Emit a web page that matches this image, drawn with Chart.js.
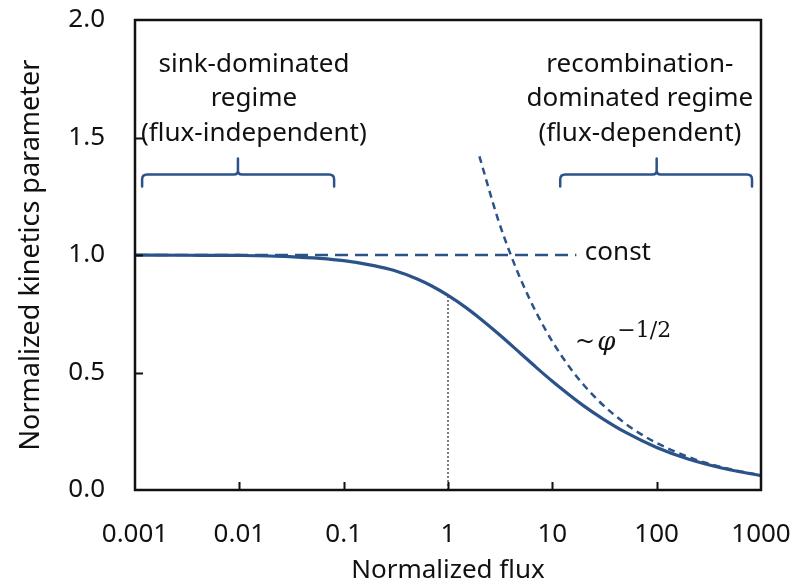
<!DOCTYPE html>
<html>
<head>
<meta charset="utf-8">
<script src="https://cdn.jsdelivr.net/npm/chart.js@4"></script>
<style>
  html,body{margin:0;padding:0;background:#fff;}
  #wrap{width:805px;height:584px;position:relative;}
</style>
</head>
<body>
<div id="wrap"><canvas id="ch" width="805" height="584"></canvas></div>
<script>
// 歸一化通量 vs 歸一化動力學參數
const xTickValues = [0.001, 0.01, 0.1, 1, 10, 100, 1000];
const xTickLabels = ['0.001', '0.01', '0.1', '1', '10', '100', '1000'];
const yTickValues = [0, 0.5, 1.0, 1.5, 2.0];

// 實線：完整曲線
const fluxSolid = [0.001, 0.003, 0.01, 0.03, 0.1, 0.2, 0.3, 0.5, 0.7, 1, 1.5, 2, 3, 5, 7, 10, 20, 30, 50, 100, 200, 500, 1000];
const kinSolid  = [1.000, 0.999, 0.998, 0.993, 0.976, 0.954, 0.935, 0.899, 0.868, 0.828, 0.775, 0.732, 0.667, 0.580, 0.522, 0.463, 0.358, 0.305, 0.246, 0.181, 0.132, 0.086, 0.061];

// 虛線：~φ^-1/2 漸近線
const fluxPow = [2, 3, 4, 5, 7, 10, 15, 20, 30, 50, 70, 100, 200, 300, 500, 1000];
const kinPow  = [1.42, 1.155, 1.0, 0.894, 0.756, 0.632, 0.516, 0.447, 0.365, 0.283, 0.239, 0.200, 0.141, 0.115, 0.089, 0.063];

// 長虛線：const
const fluxConst = [0.001, 17];
const kinConst  = [1.0, 1.0];

// 點線：flux = 1
const fluxMark = [1, 1];
const kinMark  = [0, 0.828];

// 括號範圍 [起, 峰, 止]
const braceLeft  = [0.00117, 0.0097, 0.081];
const braceRight = [11.9, 100, 820];
const braceY = { end: 1.292, bar: 1.343, peak: 1.411 };

const notesLeft  = { x: 0.0138, y: [1.81, 1.665, 1.517], lines: ['sink-dominated', 'regime', '(flux-independent)'] };
const notesRight = { x: 69, y: [1.81, 1.665, 1.517], lines: ['recombination-', 'dominated regime', '(flux-dependent)'] };
const constNote = { x: 20.5, y: 1.0, text: 'const' };
const powNote = { x: 16.5, y: 0.595 };

const BLUE = '#2b5389';
const INK = '#111';
const FONT = '"Noto Sans", "Open Sans", sans-serif';

const pts = (xs, ys) => xs.map((x, i) => ({ x, y: ys[i] }));
// 不讓刻度文字撐開繪圖區
const noPad = s => { s.paddingTop = 0; s.paddingBottom = 0; s.paddingLeft = 0; s.paddingRight = 0; };

// 外框 + 內向刻度 + 括號 + 文字
const decor = {
  id: 'decor',
  afterDatasetsDraw(chart){
    const { ctx, chartArea: a, scales: { x, y } } = chart;
    ctx.save();

    // 刻度（向內）
    ctx.strokeStyle = INK; ctx.lineWidth = 2;
    ctx.beginPath();
    for (const v of xTickValues.slice(1, -1)) {
      const px = Math.round(x.getPixelForValue(v)) + 0.5;
      ctx.moveTo(px, a.bottom); ctx.lineTo(px, a.bottom - 8);
    }
    for (const v of yTickValues.slice(1, -1)) {
      const py = Math.round(y.getPixelForValue(v)) + 0.5;
      ctx.moveTo(a.left, py); ctx.lineTo(a.left + 8, py);
    }
    ctx.stroke();

    // 外框
    ctx.lineWidth = 2.5;
    ctx.strokeRect(a.left, a.top, a.right - a.left, a.bottom - a.top);

    // 括號
    const brace = (b) => {
      const x0 = x.getPixelForValue(b[0]), xm = x.getPixelForValue(b[1]), x1 = x.getPixelForValue(b[2]);
      const yE = y.getPixelForValue(braceY.end), yB = y.getPixelForValue(braceY.bar), yP = y.getPixelForValue(braceY.peak);
      const r = 5;
      ctx.beginPath();
      ctx.moveTo(x0, yE);
      ctx.lineTo(x0, yB + r);
      ctx.quadraticCurveTo(x0, yB, x0 + r, yB);
      ctx.lineTo(xm - 4, yB);
      ctx.quadraticCurveTo(xm, yB, xm, yB - 4);
      ctx.lineTo(xm, yP);
      ctx.moveTo(xm, yB - 4);
      ctx.quadraticCurveTo(xm, yB, xm + 4, yB);
      ctx.lineTo(x1 - r, yB);
      ctx.quadraticCurveTo(x1, yB, x1, yB + r);
      ctx.lineTo(x1, yE);
      ctx.stroke();
    };
    ctx.strokeStyle = BLUE; ctx.lineWidth = 2.5; ctx.lineCap = 'round'; ctx.lineJoin = 'round';
    brace(braceLeft); brace(braceRight);

    // 說明文字
    ctx.fillStyle = INK;
    ctx.font = `26px ${FONT}`;
    ctx.textAlign = 'center'; ctx.textBaseline = 'middle';
    for (const n of [notesLeft, notesRight]) {
      const px = x.getPixelForValue(n.x);
      n.lines.forEach((t, i) => ctx.fillText(t, px, y.getPixelForValue(n.y[i])));
    }
    ctx.textAlign = 'left';
    ctx.fillText(constNote.text, x.getPixelForValue(constNote.x), y.getPixelForValue(constNote.y) - 2);

    // ~φ^(-1/2)
    let px = x.getPixelForValue(powNote.x), py = y.getPixelForValue(powNote.y);
    ctx.textBaseline = 'alphabetic';
    ctx.font = `24px "DejaVu Serif", serif`;
    ctx.fillText('~', px, py - 1);
    px += ctx.measureText('~').width + 2;
    ctx.font = `italic 26px "DejaVu Serif", serif`;
    ctx.fillText('φ', px, py);
    px += ctx.measureText('φ').width + 2;
    ctx.font = `22px "DejaVu Serif", serif`;
    ctx.fillText('−1/2', px, py - 13);

    ctx.restore();
  }
};

new Chart(document.getElementById('ch'), {
  type: 'line',
  data: {
    datasets: [
      { label: 'mark', data: pts(fluxMark, kinMark), borderColor: '#555', borderWidth: 1.5, borderDash: [2, 2], pointRadius: 0 },
      { label: 'const', data: pts(fluxConst, kinConst), borderColor: BLUE, borderWidth: 2.6, borderDash: [13, 7], pointRadius: 0 },
      { label: 'power', data: pts(fluxPow, kinPow), borderColor: BLUE, borderWidth: 2.5, borderDash: [7, 5], pointRadius: 0, cubicInterpolationMode: 'monotone' },
      { label: 'full', data: pts(fluxSolid, kinSolid), borderColor: BLUE, borderWidth: 3.2, pointRadius: 0, cubicInterpolationMode: 'monotone' }
    ]
  },
  options: {
    responsive: false, animation: false,
    devicePixelRatio: 1,
    layout: { padding: { left: 0, right: 44, top: 20, bottom: 0 } },
    plugins: { legend: { display: false }, tooltip: { enabled: false } },
    scales: {
      x: {
        type: 'logarithmic', min: 0.001, max: 1000,
        afterBuildTicks: s => { s.ticks = xTickValues.map(v => ({ value: v })); },
        afterFit: s => { s.height = 94; noPad(s); },
        grid: { display: false, drawTicks: false },
        border: { display: false },
        ticks: {
          padding: 29, color: INK, font: { family: FONT, size: 26 }, maxRotation: 0, autoSkip: false,
          callback: (v) => xTickLabels[xTickValues.indexOf(v)] ?? ''
        },
        title: { display: true, text: 'Normalized flux', color: INK, font: { family: FONT, size: 26, lineHeight: 1 }, padding: 0 }
      },
      y: {
        min: 0, max: 2,
        afterBuildTicks: s => { s.ticks = yTickValues.map(v => ({ value: v })); },
        afterFit: s => { s.width = 135; noPad(s); },
        grid: { display: false, drawTicks: false },
        border: { display: false },
        ticks: { padding: 30, color: INK, font: { family: FONT, size: 26 }, callback: v => v.toFixed(1) },
        title: { display: true, text: 'Normalized kinetics parameter', color: INK, font: { family: FONT, size: 27, lineHeight: 1 }, padding: { top: 18, bottom: 0 } }
      }
    }
  },
  plugins: [decor]
});
</script>
</body>
</html>
